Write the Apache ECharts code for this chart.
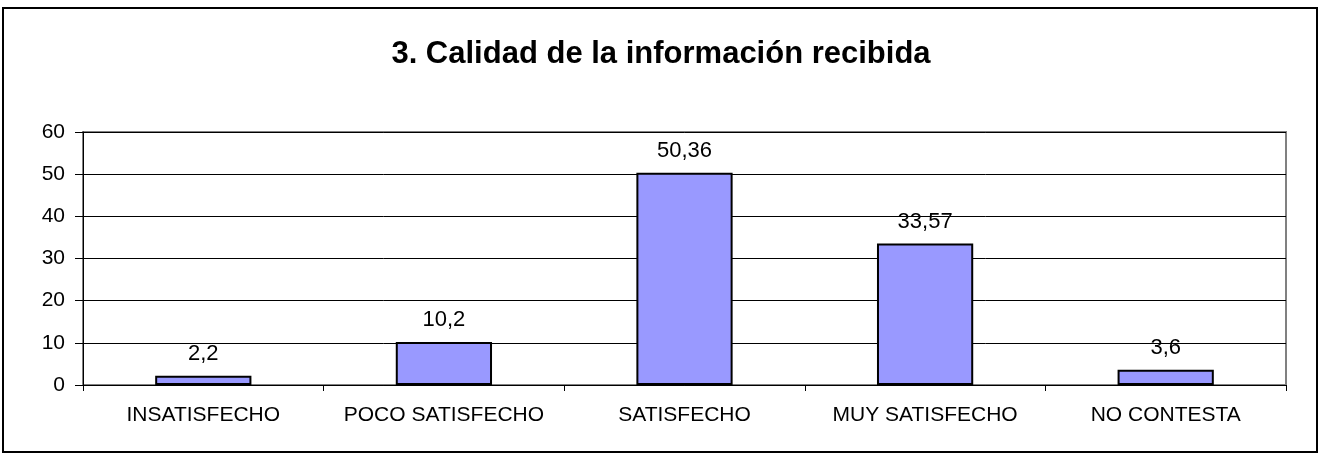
<!DOCTYPE html>
<html>
<head>
<meta charset="utf-8">
<script src="https://cdn.jsdelivr.net/npm/echarts@6/dist/echarts.min.js"></script>
<style>
  html, body { margin: 0; padding: 0; background: #fff; }
  #chart { width: 1322px; height: 460px; }
</style>
</head>
<body>
<div id="chart"></div>
<script>
// datos del gráfico
const categorias = ["INSATISFECHO", "POCO SATISFECHO", "SATISFECHO", "MUY SATISFECHO", "NO CONTESTA"];
const valores = [2.2, 10.2, 50.36, 33.57, 3.6];
const titulo = "3. Calidad de la información recibida";

const chart = echarts.init(document.getElementById("chart"));
const font = "Liberation Sans, Arial, sans-serif";

const option = {
  backgroundColor: "#fff",
  animation: false,
  title: {
    text: titulo,
    left: "center",
    top: 34,
    textStyle: { fontFamily: font, fontSize: 31, fontWeight: "bold", color: "#000" }
  },
  graphic: [{
    type: "rect",
    shape: { x: 3, y: 8, width: 1314, height: 444 },
    style: { fill: "none", stroke: "#000", lineWidth: 2 },
    silent: true
  }],
  grid: {
    left: 83, right: 36, top: 132, bottom: 75,
    show: true, borderColor: "#808080", borderWidth: 2
  },
  xAxis: {
    type: "category",
    data: categorias,
    axisLine: { lineStyle: { color: "#000", width: 1 } },
    axisTick: { show: true, alignWithLabel: false, length: 6, lineStyle: { color: "#000" } },
    axisLabel: { color: "#000", fontFamily: font, fontSize: 21, margin: 20, interval: 0 }
  },
  yAxis: {
    type: "value",
    min: 0, max: 60, interval: 10,
    axisLine: { show: true, lineStyle: { color: "#000", width: 1 } },
    axisTick: { show: true, length: 8, lineStyle: { color: "#000" } },
    axisLabel: { color: "#000", fontFamily: font, fontSize: 21, margin: 18 },
    splitLine: { show: true, lineStyle: { color: "#000", width: 1 } }
  },
  series: [{
    type: "bar",
    data: valores,
    barWidth: "40%",
    itemStyle: { color: "#9999FF", borderColor: "#000", borderWidth: 2 },
    label: {
      show: true,
      position: "top",
      distance: 11,
      color: "#000",
      fontFamily: font,
      fontSize: 22,
      formatter: p => String(p.value).replace(".", ",")
    }
  }]
};

chart.setOption(option);
</script>
</body>
</html>
